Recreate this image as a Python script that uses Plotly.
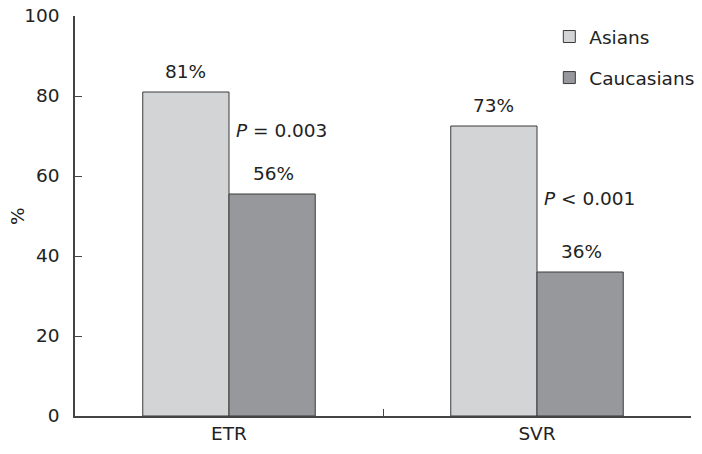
import plotly.graph_objects as go

categories = ["ETR", "SVR"]
asians = [81, 72.5]
caucasians = [55.5, 36]
asian_labels = ["81%", "73%"]
caucasian_labels = ["56%", "36%"]
p_texts = ["<i>P</i> = 0.003", "<i>P</i> < 0.001"]
p_y = [71.5, 54.5]
y_ticks = [0, 20, 40, 60, 80, 100]

FONT = "DejaVu Sans, Verdana, sans-serif"
FS = 18.5
C_ASIA = "#d3d4d6"
C_CAUC = "#97989b"
EDGE = "#3a3a3a"
TXT = "#222"

fig = go.Figure()
fig.add_trace(go.Bar(x=categories, y=asians, name="Asians",
                     marker=dict(color=C_ASIA, line=dict(color=EDGE, width=1)),
                     legendgroup="a"))
fig.add_trace(go.Bar(x=categories, y=caucasians, name="Caucasians",
                     marker=dict(color=C_CAUC, line=dict(color=EDGE, width=1)),
                     legendgroup="c"))

annotations = []
for c, v, t in zip(categories, asians, asian_labels):
    annotations.append(dict(x=c, y=v, text=t, xref="x", yref="y", showarrow=False,
                            xshift=-44, yshift=21, yanchor="middle",
                            font=dict(size=FS, color=TXT, family=FONT)))
for c, v, t in zip(categories, caucasians, caucasian_labels):
    annotations.append(dict(x=c, y=v, text=t, xref="x", yref="y", showarrow=False,
                            xshift=44, yshift=21, yanchor="middle",
                            font=dict(size=FS, color=TXT, family=FONT)))
for c, yv, t in zip(categories, p_y, p_texts):
    annotations.append(dict(x=c, y=yv, text=t, xref="x", yref="y", showarrow=False,
                            xanchor="left", xshift=5, yanchor="middle",
                            font=dict(size=FS, color=TXT, family=FONT)))
annotations.append(dict(x=0, y=0.5, xref="paper", yref="paper", text="%",
                        textangle=-90, showarrow=False, xanchor="center",
                        yanchor="middle", xshift=-58,
                        font=dict(size=FS, color=TXT, family=FONT)))

fig.update_layout(
    width=702, height=454,
    margin=dict(l=75, r=11, t=16, b=38, autoexpand=False),
    plot_bgcolor="white", paper_bgcolor="white",
    barmode="group", bargap=0.44, bargroupgap=0,
    font=dict(family=FONT, size=FS, color=TXT),
    showlegend=True,
    legend=dict(x=0.77, y=0.995, xanchor="left", yanchor="top",
                font=dict(size=FS, family=FONT, color=TXT),
                traceorder="grouped", tracegroupgap=14,
                bgcolor="rgba(0,0,0,0)"),
    annotations=annotations,
    xaxis=dict(range=[-0.5, 1.5], showline=True, linecolor="#444", linewidth=1.5,
               ticks="inside", tickson="boundaries", ticklen=7, tickcolor="#444",
               showgrid=False, zeroline=False, automargin=False,
               tickfont=dict(size=FS, family=FONT, color=TXT)),
    yaxis=dict(range=[0, 100], tickvals=y_ticks, showline=True, linecolor="#444",
               linewidth=1.5, ticks="inside", ticklen=7, tickcolor="#444",
               showgrid=False, zeroline=False, ticklabelstandoff=10, automargin=False,
               ticklabeloverflow="allow",
               tickfont=dict(size=FS, family=FONT, color=TXT)),
)

fig.write_html("out.html",
               config={"displayModeBar": False},
               post_script="document.body.style.margin='0';document.body.style.overflow='hidden';")
